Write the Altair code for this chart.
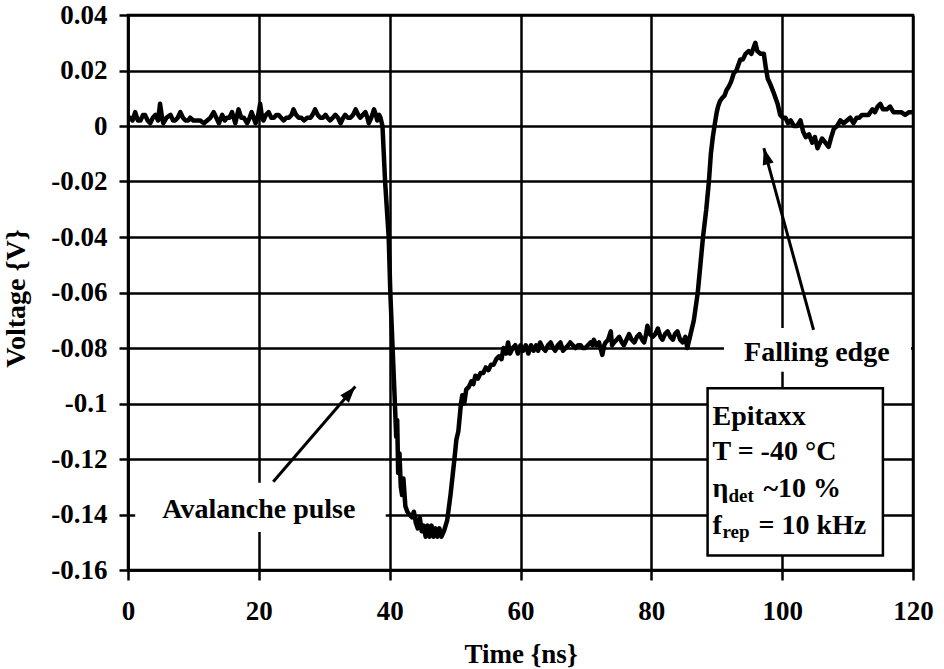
import altair as alt
import pandas as pd

# ---------------- data ----------------
time_ns = [
    0.0, 0.35, 0.7, 1.1, 1.5, 1.9, 2.3, 2.6, 3.0, 3.4, 3.8, 4.2, 4.6, 4.9, 5.2, 5.4, 5.9, 6.5, 6.9, 7.2,
    7.6, 8.0, 8.4, 8.8, 9.2, 9.5, 10.0, 10.5, 11.0, 11.6, 12.1, 12.6, 13.1, 13.5, 13.9, 14.4, 14.8, 15.1,
    15.5, 15.9, 16.4, 16.9, 17.3, 17.7, 18.2, 18.6, 18.9, 19.2, 19.5, 19.9, 20.2, 20.5, 20.7, 21.1, 21.5,
    21.9, 22.3, 22.7, 23.0, 23.4, 23.8, 24.2, 24.6, 25.0, 25.3, 25.7, 26.1, 26.5, 26.9, 27.4, 27.9, 28.2,
    28.6, 29.0, 29.4, 29.8, 30.2, 30.5, 30.9, 31.3, 31.7, 32.1, 32.5, 32.9, 33.2, 33.6, 34.0, 34.4, 34.8,
    35.2, 35.5, 35.9, 36.3, 36.6, 36.8, 37.2, 37.6, 37.9, 38.1, 38.4, 38.6,
    38.9, 39.3, 39.85, 40.1, 40.45, 40.8, 41.0, 41.15, 41.3, 41.5, 41.7, 41.9, 42.1, 42.4, 42.7, 43.0,
    43.4, 43.7, 44.0, 44.3, 44.6, 44.9, 45.2, 45.5, 45.8, 46.1, 46.4, 46.7, 47.0, 47.3, 47.6, 47.9, 48.3,
    48.8, 49.3, 49.9, 50.2, 50.5, 50.9, 51.1, 51.4, 51.7, 52.1, 52.5, 52.8, 53.1, 53.5, 53.9, 54.3, 54.7,
    55.1, 55.5, 55.9, 56.3, 56.7, 57.1, 57.4, 57.8, 58.1, 58.4, 58.8, 59.2, 59.6, 60.0, 60.4, 60.8, 61.2,
    61.6, 62.0, 62.4, 62.7, 63.0, 63.4, 63.8, 64.2, 64.6, 65.0, 65.3, 65.7, 66.1, 66.5, 66.9, 67.3, 67.6,
    68.0, 68.4, 68.8, 69.2, 69.5, 69.9, 70.3, 70.7, 71.0, 71.2, 71.6, 72.0, 72.5, 72.8, 73.0, 73.4, 73.8,
    74.0, 74.3, 74.7, 75.1, 75.5, 75.8, 76.2, 76.6, 77.0, 77.4, 77.8, 78.2, 78.6, 78.9, 79.2, 79.4, 79.8,
    80.2, 80.6, 81.0, 81.4, 81.7, 82.1, 82.5, 82.9, 83.3, 83.6, 84.0, 84.4, 84.8, 85.2, 85.5,
    86.0, 86.5, 87.1, 87.5, 87.9, 88.4, 88.8, 89.1, 89.4, 89.65, 90.0, 90.2, 90.5, 90.8, 91.2, 91.5, 91.8,
    92.2, 92.6, 93.0, 93.3, 93.6, 94.0, 94.4, 94.9, 95.3, 95.6, 95.9, 96.2, 96.7, 97.2, 97.5, 97.8, 98.2,
    98.7, 99.0, 99.3, 99.7, 100.1, 100.5, 100.9, 101.3, 101.8, 102.3, 102.8, 103.2, 103.6, 104.1, 104.6,
    105.0, 105.4, 105.8, 106.1, 106.6, 107.1, 107.5, 107.9, 108.4, 108.9, 109.4, 109.9, 110.4, 110.9,
    111.4, 111.8, 112.2, 112.7, 113.2, 113.8, 114.2, 114.6, 115.0, 115.4, 116.0, 116.5, 117.0, 117.6,
    118.2, 118.8, 119.4, 120.0,
]
voltage_v = [
    0.003, 0.003, 0.002, 0.005, 0.002, 0.002, 0.004, 0.004, 0.002, 0.001, 0.003, 0.004, 0.002, 0.008,
    0.003, 0.001, 0.003, 0.004, 0.002, 0.002, 0.003, 0.005, 0.003, 0.002, 0.002, 0.003, 0.002, 0.002,
    0.002, 0.001, 0.002, 0.003, 0.005, 0.003, 0.001, 0.004, 0.002, 0.003, 0.003, 0.005, 0.001, 0.006,
    0.003, 0.003, 0.001, 0.003, 0.005, 0.003, 0.001, 0.004, 0.008, 0.003, 0.002, 0.004, 0.005, 0.003,
    0.003, 0.004, 0.004, 0.003, 0.002, 0.003, 0.003, 0.004, 0.006, 0.004, 0.003, 0.003, 0.002, 0.003,
    0.003, 0.004, 0.006, 0.004, 0.003, 0.003, 0.004, 0.003, 0.002, 0.003, 0.004, 0.003, 0.001, 0.003,
    0.004, 0.003, 0.003, 0.004, 0.006, 0.004, 0.003, 0.004, 0.005, 0.003, 0.001, 0.003, 0.006, 0.004,
    0.002, 0.004, 0.003,
    0.000, -0.020, -0.040, -0.060, -0.080, -0.100, -0.112, -0.106, -0.125, -0.118, -0.130, -0.133,
    -0.127, -0.137, -0.139, -0.140, -0.141, -0.139, -0.143, -0.145, -0.141, -0.146, -0.144, -0.148,
    -0.144, -0.148, -0.144, -0.148, -0.145, -0.148, -0.145, -0.148, -0.146,
    -0.142, -0.133, -0.120, -0.113, -0.110, -0.100, -0.097, -0.100, -0.095, -0.094, -0.092, -0.093,
    -0.090, -0.091, -0.089, -0.089, -0.087, -0.088, -0.086, -0.086, -0.084, -0.083, -0.084, -0.080,
    -0.082, -0.078, -0.082, -0.080, -0.079, -0.082, -0.079, -0.081, -0.079, -0.082, -0.079, -0.081,
    -0.079, -0.081, -0.078, -0.080, -0.081, -0.079, -0.078, -0.080, -0.081, -0.079, -0.078, -0.081,
    -0.080, -0.079, -0.078, -0.079, -0.080, -0.079, -0.079, -0.080, -0.080, -0.079, -0.078, -0.079,
    -0.077, -0.079, -0.078, -0.0825, -0.079, -0.078, -0.077, -0.074, -0.079, -0.078, -0.077, -0.076,
    -0.078, -0.079, -0.077, -0.075, -0.077, -0.078, -0.076, -0.075, -0.077, -0.078, -0.075, -0.072,
    -0.075, -0.076, -0.075, -0.073, -0.076, -0.077, -0.075, -0.074, -0.076, -0.077, -0.075, -0.074,
    -0.077, -0.078, -0.076, -0.080,
    -0.075, -0.070, -0.060, -0.050, -0.040, -0.030, -0.020, -0.010, -0.004, 0.000, 0.005, 0.007, 0.009,
    0.010, 0.011, 0.013, 0.014, 0.016, 0.019, 0.020, 0.022, 0.024, 0.024, 0.026, 0.027, 0.026, 0.028,
    0.030, 0.027, 0.026, 0.026, 0.021, 0.017, 0.015, 0.012, 0.010, 0.008, 0.004, 0.003, 0.003, 0.001,
    0.002, 0.000, 0.000, 0.002, -0.002, -0.004, -0.003, -0.006, -0.004, -0.008, -0.006, -0.0045,
    -0.006, -0.0075, -0.004, -0.001, 0.000, 0.002, 0.001, 0.002, 0.003, 0.001, 0.003, 0.003, 0.004,
    0.004, 0.004, 0.006, 0.005, 0.007, 0.008, 0.006, 0.006, 0.007, 0.005, 0.005, 0.005, 0.004, 0.005,
    0.005,
]

x_ticks = [0, 20, 40, 60, 80, 100, 120]
y_ticks = [0.04, 0.02, 0, -0.02, -0.04, -0.06, -0.08, -0.1, -0.12, -0.14, -0.16]

# white label backgrounds (data units)
bg_t1 = [1.1, 91.1]
bg_t2 = [39.4, 119.7]
bg_v1 = [-0.1286, -0.0728]
bg_v2 = [-0.1463, -0.0886]

# arrows: start -> tip
arrow_t_start = [22.2, 104.8]
arrow_v_start = [-0.1282, -0.0735]
arrow_t_tip = [34.75, 97.2]
arrow_v_tip = [-0.0939, -0.0080]
arrow_angle = [40.8, 344.6]

# free annotations
note_labels = ["Avalanche pulse", "Falling edge"]
note_t = [20.0, 105.3]
note_v = [-0.1414, -0.0846]

# info box
info_t1, info_t2 = [88.6], [115.4]
info_v1, info_v2 = [-0.0945], [-0.1548]
info_left_t = 89.35
info_lines = ["Epitaxx", "T = -40 °C", "η", "f"]
info_line_v = [-0.1077, -0.1204, -0.1336, -0.1470]
sub_labels = ["det", "rep"]
sub_v = [-0.1354, -0.1485]
rest_labels = ["~10 %", "= 10 kHz"]
rest_v = [-0.1336, -0.1470]

FONT = "Times New Roman, Liberation Serif, Times, DejaVu Serif, serif"

# ---------------- chart ----------------
xs = alt.Scale(domain=[0, 120], nice=False, zero=False)
ys = alt.Scale(domain=[-0.16, 0.04], nice=False, zero=False)

xax = alt.Axis(
    values=x_ticks, title="Time {ns}", grid=True, gridColor="black", gridWidth=2.5, gridOpacity=1,
    domainColor="black", domainWidth=2.5, tickColor="black", tickWidth=2.5, tickSize=10,
    labelFont=FONT, labelFontSize=27, labelFontWeight="bold", labelColor="black",
    labelPadding=18, labelFlush=False, labelOverlap=False,
    titleFont=FONT, titleFontSize=27, titleFontWeight="bold", titleColor="black",
    titleBaseline="alphabetic", titleY=92,
)
yax = alt.Axis(
    values=y_ticks, title="Voltage {V}", grid=True, gridColor="black", gridWidth=2.5, gridOpacity=1,
    domainColor="black", domainWidth=2.5, tickColor="black", tickWidth=2.5, tickSize=9,
    labelExpr="'' + datum.value",
    labelFont=FONT, labelFontSize=27, labelFontWeight="bold", labelColor="black",
    labelPadding=12, labelFlush=False, labelOverlap=False,
    titleFont=FONT, titleFontSize=28, titleFontWeight="bold", titleColor="black",
    titleX=-98, titleY=283,
)


def X(f):
    return alt.X(f, type="quantitative", scale=xs, axis=xax)


def Y(f):
    return alt.Y(f, type="quantitative", scale=ys, axis=yax)


trace = pd.DataFrame({"t": time_ns, "v": voltage_v})
bg = pd.DataFrame({"t": bg_t1, "t2": bg_t2, "v": bg_v1, "v2": bg_v2})
arrows = pd.DataFrame({"t": arrow_t_start, "v": arrow_v_start, "t2": arrow_t_tip,
                       "v2": arrow_v_tip, "ang": arrow_angle})
tips = pd.DataFrame({"t": arrow_t_tip, "v": arrow_v_tip, "ang": arrow_angle})
notes = pd.DataFrame({"t": note_t, "v": note_v, "label": note_labels})
info = pd.DataFrame({"t": info_t1, "t2": info_t2, "v": info_v1, "v2": info_v2})
info_txt = pd.DataFrame({"t": [info_left_t] * 4, "v": info_line_v, "label": info_lines})
sub_txt = pd.DataFrame({"t": [info_left_t] * 2, "v": sub_v, "label": sub_labels})
rest_txt = pd.DataFrame({"t": [info_left_t] * 2, "v": rest_v, "label": rest_labels})

bg_layer = alt.Chart(bg).mark_rect(fill="white", strokeWidth=0).encode(
    x=X("t"), x2="t2", y=Y("v"), y2="v2")

line = alt.Chart(trace).mark_line(color="black", strokeWidth=4.5, strokeJoin="round").encode(
    x=X("t"), y=Y("v"), order="t:Q")

shafts = alt.Chart(arrows).mark_rule(color="black", strokeWidth=3).encode(
    x=X("t"), y=Y("v"), x2="t2", y2="v2")

heads = alt.Chart(tips).mark_point(
    shape="M0,0L-0.55,1.6L0.55,1.6Z", filled=True, color="black", opacity=1, size=420
).encode(x=X("t"), y=Y("v"), angle=alt.Angle("ang:Q", scale=None))

note_layer = alt.Chart(notes).mark_text(
    font=FONT, fontSize=28, fontWeight="bold", color="black", align="center", baseline="alphabetic"
).encode(x=X("t"), y=Y("v"), text="label:N")

info_box = alt.Chart(info).mark_rect(fill="white", stroke="black", strokeWidth=2.5).encode(
    x=X("t"), x2="t2", y=Y("v"), y2="v2")

info_main = alt.Chart(info_txt).mark_text(
    font=FONT, fontSize=28, fontWeight="bold", color="black", align="left", baseline="alphabetic"
).encode(x=X("t"), y=Y("v"), text="label:N")

sub_det = alt.Chart(sub_txt).transform_filter("datum.label == 'det'").mark_text(
    font=FONT, fontSize=19, fontWeight="bold", color="black", align="left", baseline="alphabetic", dx=16
).encode(x=X("t"), y=Y("v"), text="label:N")

sub_rep = alt.Chart(sub_txt).transform_filter("datum.label == 'rep'").mark_text(
    font=FONT, fontSize=19, fontWeight="bold", color="black", align="left", baseline="alphabetic", dx=10
).encode(x=X("t"), y=Y("v"), text="label:N")

rest_eta = alt.Chart(rest_txt).transform_filter("datum.label == '~10 %'").mark_text(
    font=FONT, fontSize=28, fontWeight="bold", color="black", align="left", baseline="alphabetic", dx=51
).encode(x=X("t"), y=Y("v"), text="label:N")

rest_f = alt.Chart(rest_txt).transform_filter("datum.label == '= 10 kHz'").mark_text(
    font=FONT, fontSize=28, fontWeight="bold", color="black", align="left", baseline="alphabetic", dx=46
).encode(x=X("t"), y=Y("v"), text="label:N")

chart = alt.layer(
    bg_layer, line, shafts, heads, note_layer, info_box, info_main, sub_det, sub_rep, rest_eta, rest_f
).properties(
    width=785, height=555,
    autosize=alt.AutoSizeParams(type="none"),
    padding={"left": 128, "top": 15, "right": 31, "bottom": 99},
    background="white",
).configure_view(stroke="black", strokeWidth=2.5)

chart.save("out.html", embed_options={"renderer": "svg", "actions": False})
